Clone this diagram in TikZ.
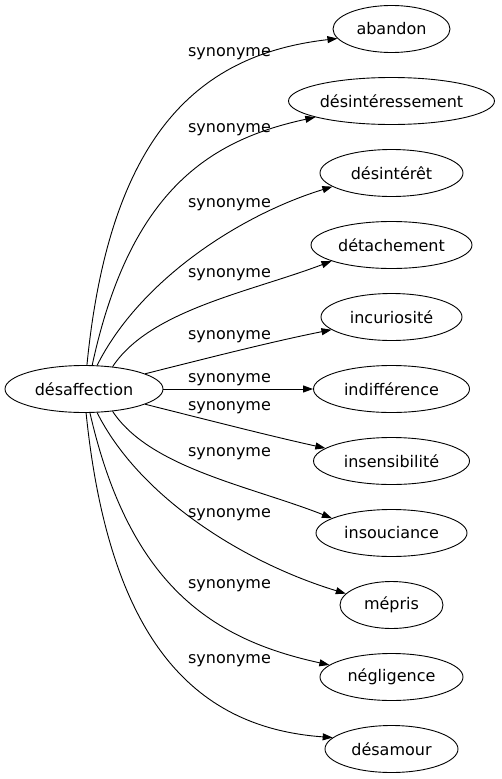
\documentclass[tikz,border=0pt]{standalone}
\usepackage{fontspec}
\setmainfont{DejaVu Sans}
\usetikzlibrary{shapes.geometric,arrows.meta}
\tikzset{
  term/.style={ellipse,draw,line width=0.9pt,inner sep=0pt,minimum height=47pt,font=\fontsize{16}{19}\selectfont},
  rel/.style={font=\fontsize{16}{19}\selectfont,inner sep=0pt},
  link/.style={line width=0.9pt,-{Triangle[length=10pt,width=7pt]}}
}
\begin{document}
\begin{tikzpicture}[x=1pt,y=-1pt]
\useasboundingbox (0,0) rectangle (501,779);
\node[term,minimum width=158pt] (src) at (84,389) {désaffection};
\node[term,minimum width=117pt] (t1) at (391.5,29) {abandon};
\node[term,minimum width=206pt] (t2) at (391.5,101) {désintéressement};
\node[term,minimum width=143pt] (t3) at (391.5,173) {désintérêt};
\node[term,minimum width=161pt] (t4) at (391.5,245) {détachement};
\node[term,minimum width=141pt] (t5) at (391.5,317) {incuriosité};
\node[term,minimum width=156pt] (t6) at (391.5,389) {indifférence};
\node[term,minimum width=156pt] (t7) at (391.5,461) {insensibilité};
\node[term,minimum width=151pt] (t8) at (391.5,533) {insouciance};
\node[term,minimum width=103pt] (t9) at (391.5,605) {mépris};
\node[term,minimum width=143pt] (t10) at (391.5,677) {négligence};
\node[term,minimum width=133pt] (t11) at (391.5,749) {désamour};

\node[rel] (l1) at (229.5,54) {synonyme};
\node[rel] (l2) at (229.5,130) {synonyme};
\node[rel] (l3) at (229.5,205) {synonyme};
\node[rel] (l4) at (229.5,275) {synonyme};
\node[rel] (l5) at (229.5,337) {synonyme};
\node[rel] (l6) at (229.5,380) {synonyme};
\node[rel] (l7) at (229.5,408) {synonyme};
\node[rel] (l8) at (229.5,454) {synonyme};
\node[rel] (l9) at (229.5,515) {synonyme};
\node[rel] (l10) at (229.5,586) {synonyme};
\node[rel] (l11) at (229.5,661) {synonyme};

\draw[link] (src.83) .. controls (110,130) and (202,54) .. (t1.190);
\draw[link] (src.71.5) .. controls (130,190) and (210,140) .. (t2.192);
\draw[link] (src.61) .. controls (140,280) and (240,215) .. (t3.193);
\draw[link] (src.38.7) .. controls (150,310) and (250,292) .. (t4.195);
\draw[link] (src.14.6) .. controls (200,360) and (270,342) .. (t5.192);
\draw[link] (src.0) -- (t6.180);
\draw[link] (src.-14.6) .. controls (200,418) and (270,436) .. (t7.169);
\draw[link] (src.-38.7) .. controls (150,468) and (250,486) .. (t8.166);
\draw[link] (src.-61) .. controls (140,498) and (245,563) .. (t9.166);
\draw[link] (src.-76) .. controls (130,588) and (215,640) .. (t10.169);
\draw[link] (src.-85) .. controls (110,648) and (200,728) .. (t11.169);
\end{tikzpicture}
\end{document}
